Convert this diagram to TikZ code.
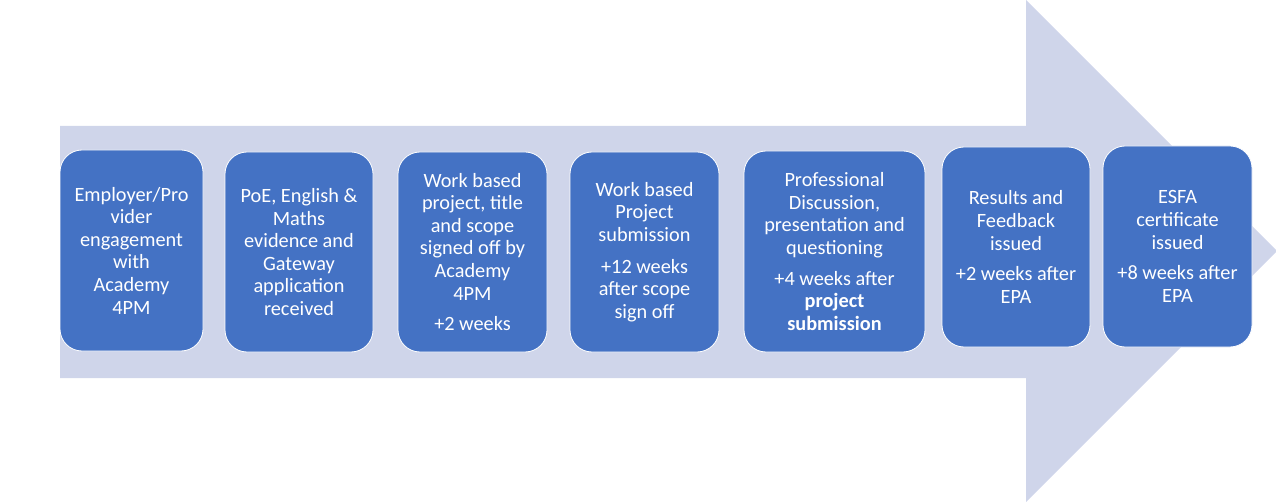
\documentclass[tikz,border=0pt]{standalone}
\usepackage{xcolor}
\usepackage{fontspec}
\setmainfont{Carlito}
\usepackage{tikz}

\definecolor{stageblue}{HTML}{4472C4}
\definecolor{arrowlilac}{HTML}{CFD5EA}

\begin{document}
\begin{tikzpicture}[x=1pt, y=-1pt,
    stage/.style={rectangle, rounded corners=22pt, fill=stageblue, draw=white, line width=0.8pt,
        text=white, align=center, inner sep=0pt, font=\fontsize{20.3}{22.6}\selectfont}]
    \useasboundingbox (0, 0) rectangle (1276, 502);

    % big background arrow
    \fill[arrowlilac] (60, 126) -- (1026, 126) -- (1026, 0) -- (1277, 251)
        -- (1026, 502) -- (1026, 378) -- (60, 378) -- cycle;

    \node[stage, minimum width=143pt, minimum height=201pt] at (131.5, 250.5) (engage)
        {Employer/Pro\\vider\\engagement\\with\\Academy\\4PM};
    \node[stage, minimum width=148pt, minimum height=200pt] at (299, 252) (gateway)
        {PoE, English \&\\Maths\\evidence and\\Gateway\\application\\received};
    \node[stage, minimum width=149pt, minimum height=200pt] at (472.5, 252) (scope)
        {Work based\\project, title\\and scope\\signed off by\\Academy\\4PM\\[8pt]+2 weeks};
    \node[stage, minimum width=149pt, minimum height=200pt] at (644.5, 252) (submit)
        {Work based\\Project\\submission\\[9pt]+12 weeks\\after scope\\sign off};
    \node[stage, minimum width=181pt, minimum height=201pt] at (834.5, 251.5) (discuss)
        {Professional\\Discussion,\\presentation and\\questioning\\[8pt]+4 weeks after\\\textbf{project}\\\textbf{submission}};
    \node[stage, minimum width=148pt, minimum height=200pt] at (1016, 247) (results)
        {Results and\\Feedback\\issued\\[8pt]+2 weeks after\\EPA};
    \node[stage, minimum width=149pt, minimum height=201pt] at (1177.5, 246.5) (cert)
        {ESFA\\certificate\\issued\\[8pt]+8 weeks after\\EPA};
\end{tikzpicture}
\end{document}
